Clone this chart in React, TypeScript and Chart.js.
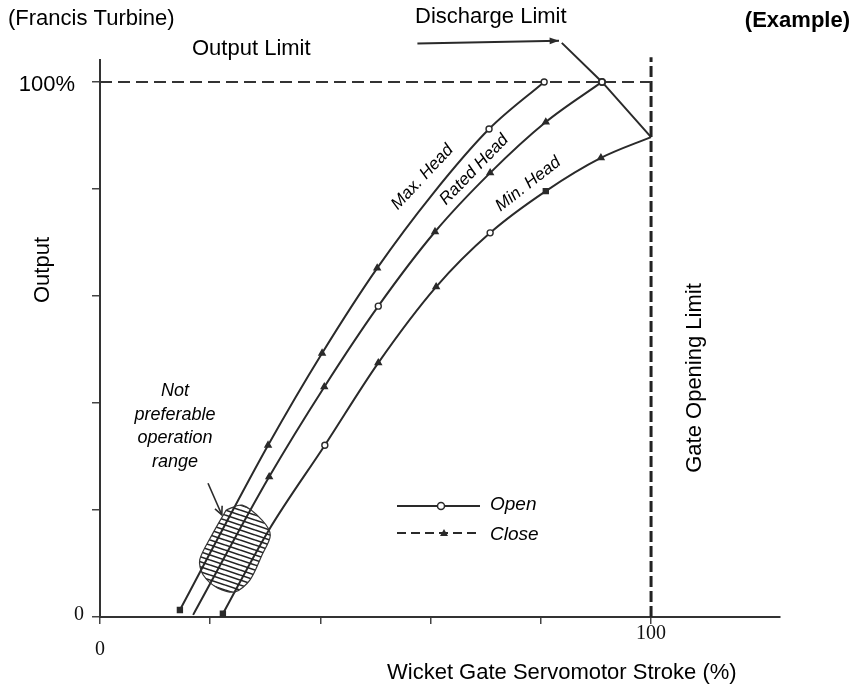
import React, { useEffect, useRef } from "react";
import { Chart, registerables } from "chart.js";

Chart.register(...registerables);

// ---- axis ticks ----
const xTickValues = [0, 20, 40, 60, 80, 100];
const yTickValues = [0, 20, 40, 60, 80, 100];
const xMin = 0;
const xMax = 123.4;
const yMin = 0;
const yMax = 104.1;

// ---- curves (Wicket gate stroke %, Output %) ----
const maxHeadX = [14.5, 20, 30.5, 40.3, 50.3, 60.4, 70.6, 80.6];
const maxHeadY = [1.3, 12, 32.1, 49.3, 65.2, 79.1, 91.2, 100];
const maxHeadMarks = ["rect", "", "triangle", "triangle", "triangle", "", "circle", "circle"];

const ratedHeadX = [16.9, 30.7, 40.7, 50.5, 60.8, 70.8, 80.9, 91.1];
const ratedHeadY = [0.4, 26.2, 43.0, 58.1, 72.0, 83.0, 92.5, 100];
const ratedHeadMarks = ["", "triangle", "triangle", "circle", "triangle", "triangle", "triangle", "circle"];

const minHeadX = [22.3, 30.5, 40.8, 50.5, 61, 70.8, 80.9, 90.9, 100];
const minHeadY = [0.6, 16, 32.1, 47.5, 61.7, 71.8, 79.6, 85.8, 89.7];
const minHeadMarks = ["rect", "", "circle", "triangle", "triangle", "circle", "rect", "triangle", ""];

// ---- limit lines ----
const outputLimitX = [0, 100];
const outputLimitY = [100, 100];
const gateLimitX = [100, 100];
const gateLimitY = [0, 104.6];
const dischargeLimitX = [83.8, 91.1, 100];
const dischargeLimitY = [107.3, 100, 89.7];
const dischargeArrowX = [57.6, 83.3];
const dischargeArrowY = [107.2, 107.7];

// ---- not preferable operation range (hatched) ----
const hatchX = [22.9, 25.8, 29.4, 30.9, 29.4, 27.2, 24.5, 21.4, 18.7, 18.1, 20.3, 22.9];
const hatchY = [20.0, 20.9, 18.1, 15.3, 11.6, 6.9, 4.7, 5.4, 7.9, 10.7, 15.3, 20.0];
const notPrefArrowX = [19.6, 22.1];
const notPrefArrowY = [25.0, 19.1];
const notPrefLines = ["Not", "preferable", "operation", "range"];

// ---- curve labels (anchor in data coords, angle in degrees) ----
const curveLabels = ["Max. Head", "Rated Head", "Min. Head"];
const curveLabelX = [58.5, 67.9, 77.7];
const curveLabelY = [82.2, 83.6, 80.9];
const curveLabelAngle = [-47, -46, -38];

const SANS = '"Liberation Sans", Arial, sans-serif';
const SERIF = '"Liberation Serif", "Times New Roman", serif';
const INK = "#2a2a2a";

function pts(xs: number[], ys: number[]) {
  return xs.map((x, i) => ({ x, y: ys[i] }));
}

function makeHatch(): CanvasPattern | string {
  const c = document.createElement("canvas");
  c.width = 15;
  c.height = 5;
  const g = c.getContext("2d");
  if (!g) return "rgba(0,0,0,0.3)";
  g.fillStyle = "rgba(255,255,255,0)";
  g.fillRect(0, 0, 15, 5);
  g.strokeStyle = "#222";
  g.lineWidth = 1.6;
  for (const off of [-5, 0, 5]) {
    g.beginPath();
    g.moveTo(0, off);
    g.lineTo(15, off + 5);
    g.stroke();
  }
  const p = g.createPattern(c, "repeat");
  return p || "rgba(0,0,0,0.3)";
}

function curveDataset(xs: number[], ys: number[], marks: string[]) {
  return {
    data: pts(xs, ys),
    showLine: true,
    borderColor: INK,
    borderWidth: 2,
    tension: 0.4,
    cubicInterpolationMode: "monotone" as const,
    pointStyle: marks.map((m) => (m === "" ? "circle" : m)),
    pointRadius: marks.map((m) => (m === "" ? 0 : m === "circle" ? 3 : 3.5)),
    pointBackgroundColor: marks.map((m) => (m === "circle" ? "#fff" : INK)),
    pointBorderColor: INK,
    pointBorderWidth: 1.4,
    fill: false,
  };
}

function arrowHead(ctx: CanvasRenderingContext2D, x0: number, y0: number, x1: number, y1: number, size: number, filled: boolean) {
  const a = Math.atan2(y1 - y0, x1 - x0);
  const spread = filled ? 0.35 : 0.45;
  ctx.beginPath();
  ctx.moveTo(x1 - size * Math.cos(a - spread), y1 - size * Math.sin(a - spread));
  ctx.lineTo(x1, y1);
  ctx.lineTo(x1 - size * Math.cos(a + spread), y1 - size * Math.sin(a + spread));
  if (filled) {
    ctx.closePath();
    ctx.fill();
  } else {
    ctx.stroke();
  }
}

const annotationPlugin = {
  id: "annotations",
  afterDatasetsDraw(chart: any) {
    const ctx: CanvasRenderingContext2D = chart.ctx;
    const xs = chart.scales.x;
    const ys = chart.scales.y;
    const px = (v: number) => xs.getPixelForValue(v);
    const py = (v: number) => ys.getPixelForValue(v);
    ctx.save();
    ctx.fillStyle = "#000";
    ctx.strokeStyle = INK;

    // discharge arrow
    {
      const x0 = px(dischargeArrowX[0]);
      const y0 = py(dischargeArrowY[0]);
      const x1 = px(dischargeArrowX[1]);
      const y1 = py(dischargeArrowY[1]);
      ctx.lineWidth = 2;
      ctx.setLineDash([]);
      ctx.beginPath();
      ctx.moveTo(x0, y0);
      ctx.lineTo(x1, y1);
      ctx.stroke();
      ctx.fillStyle = INK;
      arrowHead(ctx, x0, y0, x1, y1, 10, true);
    }

    // not preferable arrow
    {
      const x0 = px(notPrefArrowX[0]);
      const y0 = py(notPrefArrowY[0]);
      const x1 = px(notPrefArrowX[1]);
      const y1 = py(notPrefArrowY[1]);
      ctx.lineWidth = 1.6;
      ctx.beginPath();
      ctx.moveTo(x0, y0);
      ctx.lineTo(x1, y1);
      ctx.stroke();
      arrowHead(ctx, x0, y0, x1, y1, 9, false);
    }

    // axis tick labels
    ctx.fillStyle = "#111";
    ctx.font = `20px ${SERIF}`;
    ctx.textAlign = "center";
    ctx.textBaseline = "middle";
    ctx.fillText(String(xTickValues[0]), px(xTickValues[0]), 650);
    ctx.fillText(String(xTickValues[xTickValues.length - 1]), px(xTickValues[xTickValues.length - 1]), 634);
    ctx.textAlign = "right";
    ctx.fillText(String(yTickValues[0]), 84, py(yTickValues[0]) - 2);
    ctx.font = `22px ${SANS}`;
    ctx.fillStyle = "#000";
    ctx.fillText(`${yTickValues[yTickValues.length - 1]}%`, 75, py(yTickValues[yTickValues.length - 1]) + 3);

    // titles and labels
    ctx.textAlign = "left";
    ctx.font = `22px ${SANS}`;
    ctx.fillText("(Francis Turbine)", 8, 19);
    ctx.fillText("Output Limit", 192, 49);
    ctx.fillText("Discharge Limit", 415, 17);
    ctx.fillText("Wicket Gate Servomotor Stroke (%)", 387, 673);
    ctx.font = `bold 22px ${SANS}`;
    ctx.textAlign = "right";
    ctx.fillText("(Example)", 850, 21);

    // rotated axis labels
    ctx.font = `22px ${SANS}`;
    ctx.textAlign = "center";
    ctx.save();
    ctx.translate(43, 270);
    ctx.rotate(-Math.PI / 2);
    ctx.fillText("Output", 0, 0);
    ctx.restore();
    ctx.save();
    ctx.translate(695, 378);
    ctx.rotate(-Math.PI / 2);
    ctx.fillText("Gate Opening Limit", 0, 0);
    ctx.restore();

    // curve labels
    ctx.font = `italic 17px ${SANS}`;
    for (let i = 0; i < curveLabels.length; i++) {
      ctx.save();
      ctx.translate(px(curveLabelX[i]), py(curveLabelY[i]));
      ctx.rotate((curveLabelAngle[i] * Math.PI) / 180);
      ctx.fillText(curveLabels[i], 0, 0);
      ctx.restore();
    }

    // not preferable text
    ctx.font = `italic 18px ${SANS}`;
    notPrefLines.forEach((t, i) => ctx.fillText(t, 175, 391 + i * 23.5));

    // legend
    ctx.strokeStyle = INK;
    ctx.lineWidth = 2;
    ctx.setLineDash([]);
    ctx.beginPath();
    ctx.moveTo(397, 506);
    ctx.lineTo(480, 506);
    ctx.stroke();
    ctx.fillStyle = "#fff";
    ctx.lineWidth = 1.5;
    ctx.beginPath();
    ctx.arc(441, 506, 3.5, 0, Math.PI * 2);
    ctx.fill();
    ctx.stroke();
    ctx.lineWidth = 2;
    ctx.setLineDash([9, 5]);
    ctx.beginPath();
    ctx.moveTo(397, 533);
    ctx.lineTo(480, 533);
    ctx.stroke();
    ctx.setLineDash([]);
    ctx.fillStyle = INK;
    ctx.beginPath();
    ctx.moveTo(444, 529);
    ctx.lineTo(448, 536);
    ctx.lineTo(440, 536);
    ctx.closePath();
    ctx.fill();
    ctx.fillStyle = "#000";
    ctx.font = `italic 19px ${SANS}`;
    ctx.textAlign = "left";
    ctx.fillText("Open", 490, 505);
    ctx.fillText("Close", 490, 535);

    ctx.restore();
  },
};

export default function App() {
  const ref = useRef<HTMLCanvasElement | null>(null);
  useEffect(() => {
    if (!ref.current) return;
    const hatch = makeHatch();
    const chart = new Chart(ref.current, {
      type: "scatter",
      data: {
        datasets: [
          {
            data: pts(hatchX, hatchY),
            showLine: true,
            borderColor: "#333",
            borderWidth: 1.2,
            tension: 0.3,
            backgroundColor: hatch as any,
            fill: "shape",
            pointRadius: 0,
          } as any,
          curveDataset(maxHeadX, maxHeadY, maxHeadMarks) as any,
          curveDataset(ratedHeadX, ratedHeadY, ratedHeadMarks) as any,
          curveDataset(minHeadX, minHeadY, minHeadMarks) as any,
          {
            data: pts(outputLimitX, outputLimitY),
            showLine: true,
            borderColor: "#333",
            borderWidth: 2,
            borderDash: [12, 6],
            pointRadius: 0,
            fill: false,
          },
          {
            data: pts(gateLimitX, gateLimitY),
            showLine: true,
            borderColor: "#222",
            borderWidth: 3,
            borderDash: [11, 4],
            pointRadius: 0,
            fill: false,
            clip: false,
          } as any,
          {
            data: pts(dischargeLimitX, dischargeLimitY),
            showLine: true,
            borderColor: INK,
            borderWidth: 2,
            pointRadius: [0, 3, 0],
            pointBackgroundColor: "#fff",
            pointBorderColor: INK,
            fill: false,
            clip: false,
          } as any,
        ],
      },
      options: {
        animation: false,
        responsive: false,
        maintainAspectRatio: false,
        layout: { padding: { top: 60, right: 78, left: 0, bottom: 0 } },
        plugins: {
          legend: { display: false },
          tooltip: { enabled: false },
          title: { display: false },
        },
        scales: {
          x: {
            type: "linear",
            min: xMin,
            max: xMax,
            afterFit: (s: any) => {
              s.height = 71;
            },
            afterBuildTicks: (s: any) => {
              s.ticks = xTickValues.map((v) => ({ value: v }));
            },
            grid: { drawOnChartArea: false, drawTicks: true, tickLength: 7, color: "#444", lineWidth: 1.5 },
            border: { display: true, color: "#333", width: 2 },
            ticks: { display: false },
          },
          y: {
            type: "linear",
            min: yMin,
            max: yMax,
            afterFit: (s: any) => {
              s.width = 100;
            },
            afterBuildTicks: (s: any) => {
              s.ticks = yTickValues.map((v) => ({ value: v }));
            },
            grid: { drawOnChartArea: false, drawTicks: true, tickLength: 8, color: "#444", lineWidth: 1.5 },
            border: { display: true, color: "#333", width: 2 },
            ticks: { display: false },
          },
        },
      } as any,
      plugins: [annotationPlugin],
    });
    return () => chart.destroy();
  }, []);
  return (
    <div style={{ position: "fixed", left: 0, top: 0, width: 858, height: 688, background: "#fff" }}>
      <canvas ref={ref} width={858} height={688} style={{ display: "block", width: 858, height: 688 }} />
    </div>
  );
}
